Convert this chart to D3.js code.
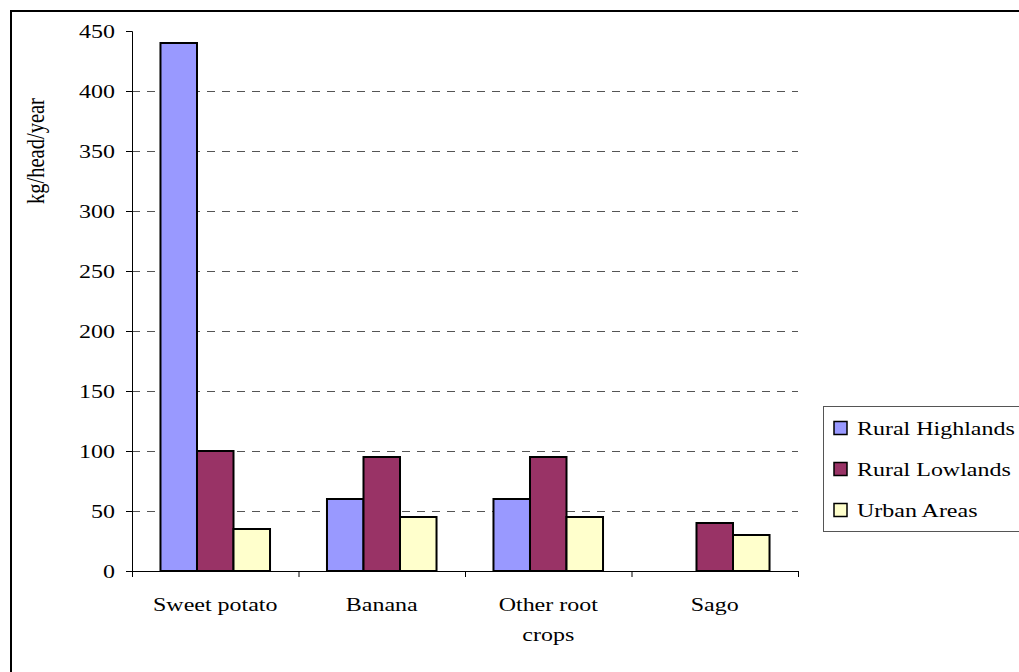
<!DOCTYPE html>
<html>
<head>
<meta charset="utf-8">
<script src="https://cdn.jsdelivr.net/npm/d3@7"></script>
<style>
  html, body { margin: 0; padding: 0; background: #fff; }
  svg { display: block; }
  svg text { font-family: "Liberation Serif", "Times New Roman", serif; }
</style>
</head>
<body>
<svg id="chart" width="1019" height="672"></svg>
<script>
// Staple food consumption per head, by region
const categories = ["Sweet potato", "Banana", "Other root crops", "Sago"];
const seriesNames = ["Rural Highlands", "Rural Lowlands", "Urban Areas"];
const ruralHighlands = [440, 60, 60, 0];
const ruralLowlands = [100, 95, 95, 40];
const urbanAreas = [35, 45, 45, 30];
const yTicks = [0, 50, 100, 150, 200, 250, 300, 350, 400, 450];
const colors = ["#9999FF", "#993366", "#FFFFCC"];

const series = [ruralHighlands, ruralLowlands, urbanAreas];
const STRETCH = 1.23;   // wide-set serif lettering
const FONT = 19.5;
const SERIF = "Liberation Serif, Times New Roman, serif";

const svg = d3.select("#chart");

// place a text at (x, y) with horizontally widened glyphs
function wideText(parent, x, y, str, opts = {}) {
  return parent.append("text")
    .attr("transform", `translate(${x},${y}) scale(${STRETCH},1)`)
    .attr("text-anchor", opts.anchor || "start")
    .attr("dy", opts.dy || null)
    .attr("font-family", SERIF)
    .attr("font-size", opts.size || FONT)
    .attr("fill", "#000")
    .text(str);
}

// outer frame (runs past the right and bottom edges)
svg.append("rect")
  .attr("x", 11).attr("y", 11)
  .attr("width", 1030).attr("height", 680)
  .attr("fill", "none").attr("stroke", "#000").attr("stroke-width", 2);

const plot = { left: 132, right: 798, top: 31, bottom: 571 };

const x = d3.scaleBand().domain(categories).range([plot.left, plot.right]).paddingInner(0).paddingOuter(0);
const x1 = d3.scaleBand().domain(seriesNames).range([0, x.bandwidth()]).paddingInner(0).paddingOuter(0.78);
const y = d3.scaleLinear().domain([0, 450]).range([plot.bottom, plot.top]);

// dashed gridlines
svg.append("g").selectAll("line")
  .data(yTicks.filter(t => t > 0 && t < 450))
  .join("line")
  .attr("x1", plot.left).attr("x2", plot.right)
  .attr("y1", d => Math.round(y(d)) + 0.5).attr("y2", d => Math.round(y(d)) + 0.5)
  .attr("stroke", "#555").attr("stroke-width", 1)
  .attr("stroke-dasharray", "8,7");

// bars
const groups = svg.append("g").selectAll("g")
  .data(categories)
  .join("g")
  .attr("transform", d => `translate(${x(d)},0)`);

groups.selectAll("rect")
  .data((c, i) => seriesNames.map((s, j) => ({ s, v: series[j][i], j })).filter(d => d.v > 0))
  .join("rect")
  .attr("x", d => x1(d.s))
  .attr("width", x1.bandwidth())
  .attr("y", d => y(d.v))
  .attr("height", d => y(0) - y(d.v))
  .attr("fill", d => colors[d.j])
  .attr("stroke", "#000").attr("stroke-width", 2);

// y axis
const yAxis = d3.axisLeft(y).tickValues(yTicks).tickSize(6).tickFormat(() => "");
const gy = svg.append("g").attr("transform", `translate(${plot.left},0)`).call(yAxis);
gy.attr("font-family", SERIF);
gy.select(".domain").attr("stroke", "#000");
gy.selectAll(".tick line").attr("stroke", "#000");
gy.selectAll(".tick").each(function(d) {
  wideText(d3.select(this), -17, 0, d3.format("d")(d), { anchor: "end", dy: "0.34em" });
});

// x axis
const gx = svg.append("g").attr("transform", `translate(0,${plot.bottom})`);
gx.append("line").attr("x1", plot.left).attr("x2", plot.right).attr("y1", 0.5).attr("y2", 0.5).attr("stroke", "#000");
const tickPos = categories.map(c => x(c)).concat([plot.right]);
gx.selectAll("line.tk").data(tickPos).join("line").attr("class", "tk")
  .attr("x1", d => d + 0.5).attr("x2", d => d + 0.5).attr("y1", 0).attr("y2", 6).attr("stroke", "#000");

const xLabelLines = { "Other root crops": ["Other root", "crops"] };
categories.forEach(c => {
  const lines = xLabelLines[c] || [c];
  lines.forEach((l, i) => wideText(gx, x(c) + x.bandwidth() / 2, 40 + i * 30, l, { anchor: "middle" }));
});

// y axis title
svg.append("text")
  .attr("transform", "translate(44,151) scale(1.2,1) rotate(-90)")
  .attr("text-anchor", "middle")
  .attr("font-family", SERIF)
  .attr("font-size", 20.5).attr("fill", "#000")
  .text("kg/head/year");

// legend
const legend = svg.append("g");
legend.append("rect")
  .attr("x", 823.5).attr("y", 406.5).attr("width", 220).attr("height", 125)
  .attr("fill", "#fff").attr("stroke", "#555").attr("stroke-width", 1);
const items = legend.selectAll("g.item").data(seriesNames).join("g").attr("class", "item")
  .attr("transform", (d, i) => `translate(834,${428 + i * 41})`);
items.append("rect")
  .attr("x", 0).attr("y", -6.5).attr("width", 13).attr("height", 13)
  .attr("fill", (d, i) => colors[i]).attr("stroke", "#000").attr("stroke-width", 1.5);
items.each(function(d) {
  wideText(d3.select(this), 23, 0, d, { dy: "0.34em" });
});
</script>
</body>
</html>
